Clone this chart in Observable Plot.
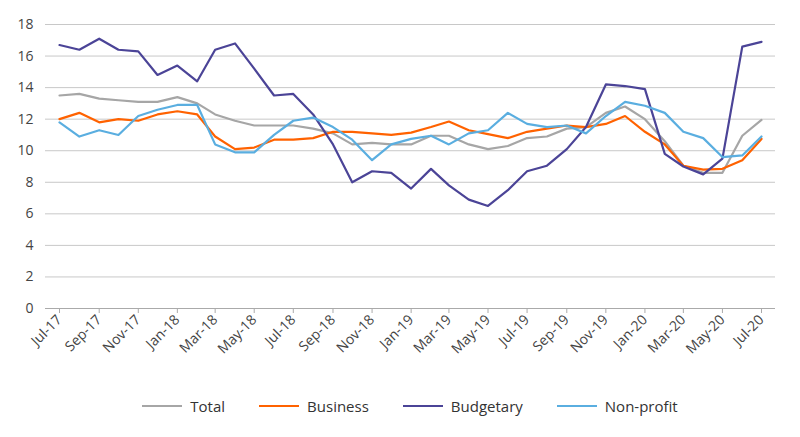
<!DOCTYPE html>
<html><head><meta charset="utf-8">
<script src="https://cdn.jsdelivr.net/npm/d3@7"></script>
<script src="https://cdn.jsdelivr.net/npm/@observablehq/plot@0.6"></script>
<style>
body{margin:0;background:#fff;font-family:"Open Sans",sans-serif;}
#legend{display:flex;justify-content:center;gap:34px;font-size:15px;color:#333;margin-top:14px;margin-left:20px}
#legend span{display:inline-flex;align-items:center}
#legend i{display:inline-block;width:40px;height:2.5px;margin-right:8px}
</style></head><body>
<div id="chart"></div>
<div id="legend"></div>
<script>
const startMonth = "2017-07";
const total = [13.5,13.6,13.3,13.2,13.1,13.1,13.4,13.0,12.3,11.9,11.6,11.6,11.6,11.4,11.1,10.4,10.5,10.4,10.4,10.95,10.95,10.4,10.1,10.3,10.8,10.9,11.4,11.5,12.4,12.8,12.0,10.6,9.05,8.6,8.6,10.95,11.95];
const business = [12.0,12.4,11.8,12.0,11.9,12.3,12.5,12.3,10.9,10.1,10.2,10.7,10.7,10.8,11.2,11.2,11.1,11.0,11.15,11.5,11.85,11.3,11.05,10.8,11.2,11.4,11.6,11.5,11.7,12.2,11.2,10.4,9.05,8.8,8.85,9.4,10.75];
const budgetary = [16.7,16.4,17.1,16.4,16.3,14.8,15.4,14.4,16.4,16.8,15.2,13.5,13.6,12.3,10.4,8.0,8.7,8.6,7.6,8.85,7.8,6.9,6.5,7.5,8.7,9.05,10.1,11.5,14.2,14.1,13.9,9.8,9.0,8.5,9.5,16.6,16.9];
const nonprofit = [11.8,10.9,11.3,11.0,12.2,12.6,12.9,12.9,10.4,9.9,9.9,11.0,11.9,12.1,11.5,10.7,9.4,10.4,10.75,10.95,10.4,11.1,11.3,12.4,11.7,11.5,11.6,11.1,12.2,13.1,12.85,12.4,11.2,10.8,9.6,9.7,10.9];
const seriesNames = ["Total","Business","Budgetary","Non-profit"];
const colors = ["#a6a6a6","#ff6200","#4b4497","#5aaee0"];
const yTicks = [0,2,4,6,8,10,12,14,16,18];

const start = new Date(startMonth + "-01T00:00:00Z");
const dates = total.map((_, i) => d3.utcMonth.offset(start, i));
const all = [total,business,budgetary,nonprofit];
const rows = [];
all.forEach((arr, s) => arr.forEach((v, i) => rows.push({date: dates[i], value: v, series: seriesNames[s]})));

const chart = Plot.plot({
  width: 800, height: 382,
  marginLeft: 45, marginRight: 25, marginTop: 24, marginBottom: 74,
  style: {fontSize: "14px", fontFamily: "Open Sans, sans-serif", color: "#444"},
  x: {type: "utc", domain: [dates[0], dates[dates.length-1]], label: null, inset: 14},
  y: {domain: [0,18], ticks: yTicks, label: null},
  color: {domain: seriesNames, range: colors},
  marks: [
    Plot.gridY(yTicks, {stroke: "#c8c8c8", strokeOpacity: 1, strokeWidth: 1}),
    Plot.ruleY([0], {stroke: "#aaa"}),
    Plot.axisY({ticks: yTicks, tickSize: 0, tickPadding: 12, label: null, fontSize: 14}),
    Plot.axisX({ticks: d3.utcMonth.every(2), tickFormat: d3.utcFormat("%b-%y"), tickRotate: -45, tickSize: 5, stroke: "#aaa", tickPadding: 4, label: null, fontSize: 14}),
    Plot.line(rows, {x: "date", y: "value", z: "series", stroke: "series", strokeWidth: 2.2})
  ]
});
document.getElementById("chart").append(chart);
const lg = document.getElementById("legend");
seriesNames.forEach((n, i) => {
  const s = document.createElement("span");
  s.innerHTML = `<i style="background:${colors[i]}"></i>${n}`;
  lg.append(s);
});
</script></body></html>
